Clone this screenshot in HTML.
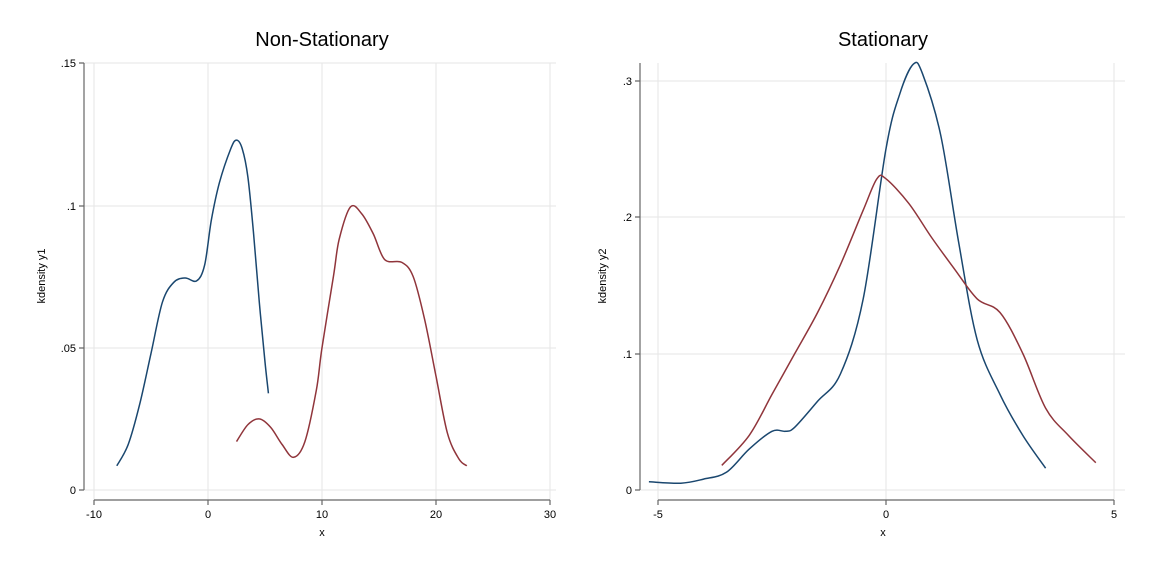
<!DOCTYPE html><html><head><style>body{margin:0;background:#fff}svg{font-family:"Liberation Sans",sans-serif}</style></head><body>
<svg id="s" width="1152" height="576" xmlns="http://www.w3.org/2000/svg">
<rect width="1152" height="576" fill="#fff"/>
<g stroke="#e6e6e6" stroke-width="1">
<line x1="84" x2="556" y1="63" y2="63"/><line x1="84" x2="556" y1="206" y2="206"/><line x1="84" x2="556" y1="348" y2="348"/><line x1="84" x2="556" y1="490" y2="490"/>
<line x1="94" x2="94" y1="63" y2="500"/><line x1="208" x2="208" y1="63" y2="500"/><line x1="322" x2="322" y1="63" y2="500"/><line x1="436" x2="436" y1="63" y2="500"/><line x1="550" x2="550" y1="63" y2="500"/>
<line x1="640" x2="1125" y1="81" y2="81"/><line x1="640" x2="1125" y1="217" y2="217"/><line x1="640" x2="1125" y1="354" y2="354"/><line x1="640" x2="1125" y1="490" y2="490"/>
<line x1="658" x2="658" y1="63" y2="500"/><line x1="886" x2="886" y1="63" y2="500"/><line x1="1114" x2="1114" y1="63" y2="500"/>
</g>
<g stroke="#666" stroke-width="1.2" fill="none">
<path d="M84 63V490M79 63H84M79 206H84M79 348H84M79 490H84"/>
<path d="M94 500H550M94 500v5M208 500v5M322 500v5M436 500v5M550 500v5"/>
<path d="M640 63V490M635 81H640M635 217H640M635 354H640M635 490H640"/>
<path d="M658 500H1114M658 500v5M886 500v5M1114 500v5"/>
</g>
<g font-size="11" fill="#000">
<text x="76" y="67" text-anchor="end">.15</text><text x="76" y="210" text-anchor="end">.1</text><text x="76" y="352" text-anchor="end">.05</text><text x="76" y="494" text-anchor="end">0</text>
<text x="94" y="518" text-anchor="middle">-10</text><text x="208" y="518" text-anchor="middle">0</text><text x="322" y="518" text-anchor="middle">10</text><text x="436" y="518" text-anchor="middle">20</text><text x="550" y="518" text-anchor="middle">30</text>
<text x="322" y="536" text-anchor="middle">x</text>
<text transform="translate(45 276) rotate(-90)" text-anchor="middle">kdensity y1</text>
<text x="632" y="85" text-anchor="end">.3</text><text x="632" y="221" text-anchor="end">.2</text><text x="632" y="358" text-anchor="end">.1</text><text x="632" y="494" text-anchor="end">0</text>
<text x="658" y="518" text-anchor="middle">-5</text><text x="886" y="518" text-anchor="middle">0</text><text x="1114" y="518" text-anchor="middle">5</text>
<text x="883" y="536" text-anchor="middle">x</text>
<text transform="translate(606 276) rotate(-90)" text-anchor="middle">kdensity y2</text>
</g>
<text x="322" y="46" font-size="20" text-anchor="middle">Non-Stationary</text>
<text x="883" y="46" font-size="20" text-anchor="middle">Stationary</text>
<g id="c" fill="none" stroke-width="1.5"></g>
</svg>
<script>
function add(pts,ox,sx,sy,col){var P=pts.map(function(p){return [ox+sx*p[0],490-sy*p[1]]});
var d="M"+P[0][0].toFixed(1)+" "+P[0][1].toFixed(1);
for(var i=0;i<P.length-1;i++){var p0=P[Math.max(0,i-1)],p1=P[i],p2=P[i+1],p3=P[Math.min(P.length-1,i+2)];
var c1=[p1[0]+(p2[0]-p0[0])/6,p1[1]+(p2[1]-p0[1])/6],c2=[p2[0]-(p3[0]-p1[0])/6,p2[1]-(p3[1]-p1[1])/6];
d+=" C"+c1[0].toFixed(1)+" "+c1[1].toFixed(1)+" "+c2[0].toFixed(1)+" "+c2[1].toFixed(1)+" "+p2[0].toFixed(1)+" "+p2[1].toFixed(1);}
var e=document.createElementNS("http://www.w3.org/2000/svg","path");e.setAttribute("d",d);e.setAttribute("stroke",col);e.setAttribute("fill","none");e.setAttribute("stroke-width","1.5");document.getElementById("c").appendChild(e);}
var B="#1a476f",R="#90353b";
add([[-8,.0085],[-7,.016],[-6,.030],[-5,.048],[-4,.066],[-3,.073],[-2,.0745],[-1,.0735],[-0.3,.079],[0.3,.095],[1,.108],[2,.12],[2.5,.123],[3,.12],[3.5,.11],[4,.09],[4.5,.066],[5,.045],[5.3,.034]],208,11.4,2845,B);
add([[2.5,.017],[3.5,.023],[4.5,.025],[5.5,.022],[6.5,.016],[7.5,.0115],[8.5,.017],[9.5,.035],[10,.05],[11,.075],[11.5,.088],[12.5,.0995],[13.5,.097],[14.5,.09],[15.5,.081],[17,.080],[18,.075],[19,.06],[20,.04],[21,.02],[22,.011],[22.7,.0085]],208,11.4,2845,R);
add([[-5.2,.006],[-4.5,.005],[-4,.008],[-3.5,.013],[-3,.03],[-2.5,.043],[-2.2,.043],[-2,.046],[-1.5,.065],[-1,.085],[-0.5,.14],[0,.25],[0.3,.29],[0.6,.312],[0.8,.305],[1.2,.26],[1.6,.18],[2,.11],[2.5,.07],[3,.04],[3.5,.016]],886,45.6,1365,B);
add([[-3.6,.018],[-3,.04],[-2.5,.07],[-2,.1],[-1.5,.13],[-1,.165],[-0.5,.205],[-0.2,.228],[0,.228],[0.5,.21],[1,.185],[1.5,.162],[2,.14],[2.5,.13],[3,.1],[3.5,.06],[4,.04],[4.6,.02]],886,45.6,1365,R);
</script>
</body></html>
